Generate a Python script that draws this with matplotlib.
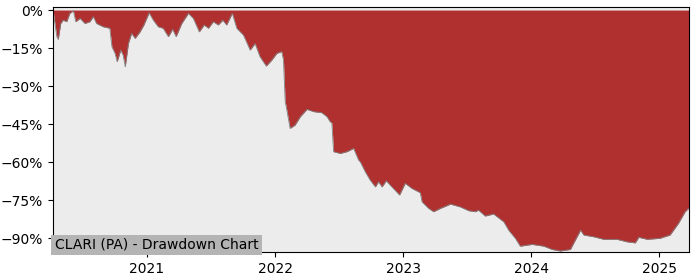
import pandas as pd
import matplotlib.pyplot as plt
import matplotlib.dates as mdates
from matplotlib.ticker import FuncFormatter

# Drawdown of CLARI (PA)
dates = [
    "2020-04-08", "2020-04-19", "2020-04-23", "2020-04-30", "2020-05-07",
    "2020-05-17", "2020-05-26", "2020-06-05", "2020-06-12", "2020-06-24",
    "2020-07-08", "2020-07-22", "2020-08-01", "2020-08-10", "2020-08-29",
    "2020-09-17", "2020-09-23", "2020-10-02", "2020-10-08", "2020-10-18",
    "2020-10-25", "2020-10-31", "2020-11-09", "2020-11-18", "2020-11-28",
    "2020-12-12", "2020-12-23", "2021-01-07", "2021-01-19", "2021-02-02",
    "2021-02-16", "2021-03-03", "2021-03-15", "2021-03-25", "2021-04-10",
    "2021-04-29", "2021-05-13", "2021-05-30", "2021-06-13", "2021-06-25",
    "2021-07-09", "2021-07-23", "2021-08-05", "2021-08-16", "2021-09-01",
    "2021-09-14", "2021-10-03", "2021-10-22", "2021-11-05", "2021-11-19",
    "2021-12-07", "2021-12-23", "2022-01-06", "2022-01-20", "2022-01-25",
    "2022-01-30", "2022-02-02", "2022-02-13", "2022-02-27", "2022-03-14",
    "2022-04-02", "2022-04-21", "2022-05-14", "2022-05-29", "2022-06-07",
    "2022-06-12", "2022-06-17", "2022-07-06", "2022-07-25", "2022-08-13",
    "2022-08-27", "2022-09-01", "2022-09-15", "2022-09-29", "2022-10-14",
    "2022-10-23", "2022-11-02", "2022-11-14", "2022-11-30", "2022-12-22",
    "2023-01-07", "2023-01-26", "2023-02-19", "2023-02-24", "2023-03-15",
    "2023-03-29", "2023-04-17", "2023-05-16", "2023-06-13", "2023-07-07",
    "2023-07-26", "2023-08-04", "2023-08-23", "2023-09-16", "2023-10-15",
    "2023-10-29", "2023-11-17", "2023-12-01", "2024-01-04", "2024-02-06",
    "2024-03-01", "2024-03-24", "2024-04-22", "2024-05-06", "2024-05-21",
    "2024-05-30", "2024-06-28", "2024-07-26", "2024-09-02", "2024-10-01",
    "2024-10-24", "2024-11-03", "2024-11-27", "2025-01-02", "2025-01-31",
    "2025-02-24", "2025-03-15", "2025-03-25",
]
drawdown = [
    0.0, -10.5, -11.6, -5.3, -4.0,
    -4.6, -1.3, -0.3, -4.6, -3.3,
    -5.3, -4.6, -2.6, -5.3, -6.6,
    -7.2, -14.5, -17.1, -20.4, -15.8,
    -17.8, -22.4, -13.2, -9.2, -11.2,
    -8.6, -5.9, -1.1, -4.0, -6.6,
    -7.2, -10.5, -7.6, -10.5, -5.3,
    -1.3, -3.3, -8.6, -5.9, -7.2,
    -4.6, -5.9, -4.0, -5.9, -1.3,
    -7.2, -9.9, -15.8, -13.2, -18.4,
    -22.1, -19.7, -17.1, -16.4, -19.7,
    -36.2, -38.2, -46.7, -45.4, -42.1,
    -39.2, -40.1, -40.5, -42.1, -44.1,
    -44.5, -55.9, -56.6, -55.9, -54.6,
    -59.2, -59.9, -63.8, -67.1, -69.8,
    -67.8, -69.8, -67.4, -69.8, -73.0,
    -68.4, -70.4, -72.1, -75.7, -78.3,
    -79.6, -78.3, -76.6, -77.7, -79.2,
    -79.6, -79.0, -81.3, -80.5, -83.6,
    -86.9, -90.1, -93.2, -92.5, -93.2,
    -94.5, -95.1, -94.5, -90.8, -86.9,
    -88.8, -89.5, -90.5, -90.5, -91.5,
    -91.9, -89.7, -90.5, -90.1, -88.8,
    -84.2, -79.6, -78.3,
]
yticks = [0, -15, -30, -45, -60, -75, -90]
title = "CLARI (PA) - Drawdown Chart"

df = pd.DataFrame(dict(date=pd.to_datetime(dates), dd=drawdown))

fig = plt.figure(figsize=(7, 2.8), dpi=100)
ax = fig.add_axes([0.0757, 0.1, 0.908, 0.875])
ax.set_facecolor("#ececec")

ax.fill_between(df["date"], df["dd"], 0, color="#b03030", lw=0)
ax.plot(df["date"], df["dd"], color="#808080", lw=0.6)

ax.set_xlim(df["date"].iloc[0], df["date"].iloc[-1])
ax.set_ylim(-95.5, 1.2)
ax.set_yticks(yticks)
ax.yaxis.set_major_formatter(
    FuncFormatter(lambda v, p: f"{v:.0f}%".replace("-", "\u2212")))
ax.xaxis.set_major_locator(mdates.YearLocator())
ax.xaxis.set_major_formatter(mdates.DateFormatter("%Y"))

ax.text(0.003, 0.0, title, transform=ax.transAxes, ha="left", va="bottom",
        fontsize=10, color="black",
        bbox=dict(facecolor="#b4b4b4", edgecolor="none", pad=2.5))

plt.savefig("out.png")
plt.close()
